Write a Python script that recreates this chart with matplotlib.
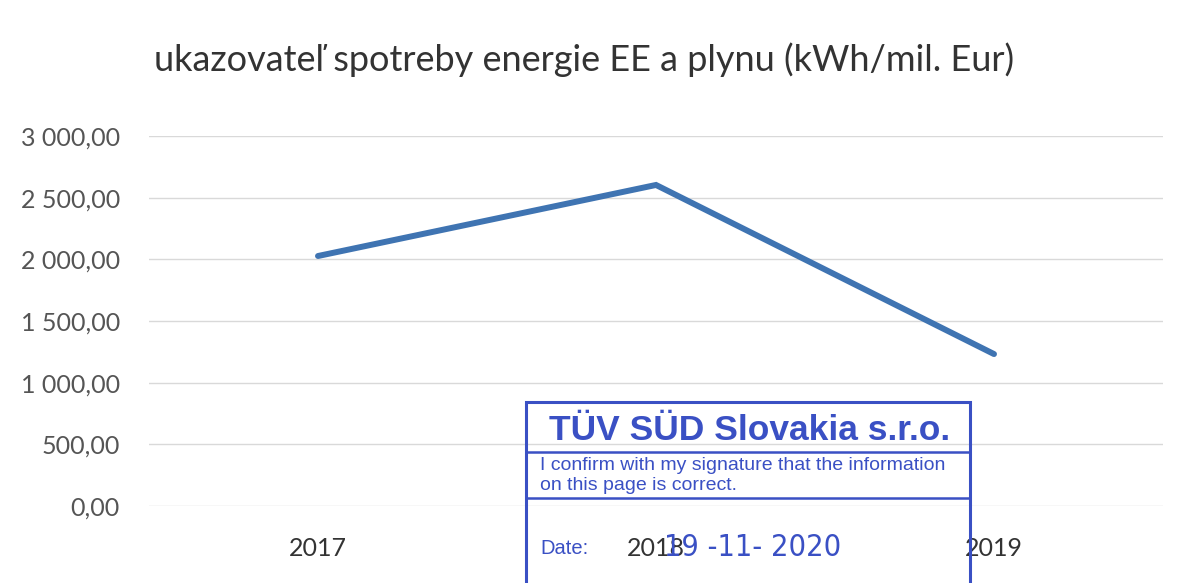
import matplotlib
matplotlib.use("Agg")
from matplotlib import pyplot as plt
from matplotlib.patches import Rectangle
from matplotlib.lines import Line2D

# chart data
years = ["2017", "2018", "2019"]
values = [2027, 2603, 1232]
yticks = [0, 500, 1000, 1500, 2000, 2500, 3000]
title = "ukazovateľ spotreby energie EE a plynu (kWh/mil. Eur)"

# stamp texts
stamp_head = "TÜV SÜD Slovakia s.r.o."
stamp_lines = ["I confirm with my signature that the information", "on this page is correct."]
stamp_date = "19 -11- 2020"

plt.rcParams['font.family'] = ['Lato', 'DejaVu Sans']

W, H = 1184, 583
fig = plt.figure(figsize=(W / 100, H / 100), dpi=100)
ax = fig.add_axes([149 / W, 1 - 506 / H, (1163 - 149) / W, (506 - 136) / H])

x = list(range(len(years)))
ax.plot(x, values, color="#3f74b2", lw=4.3, solid_capstyle="round", solid_joinstyle="miter", zorder=3)

ax.set_xlim(-0.5, len(years) - 0.5)
ax.set_ylim(0, 3000)
ax.set_yticks(yticks)
ax.set_yticklabels(["{:,.2f}".format(v).replace(",", " ").replace(".", ",") for v in yticks])
ax.set_xticks(x)
ax.set_xticklabels(years)
ax.tick_params(axis="y", length=0, pad=21, labelsize=18, labelcolor="#555555")
ax.tick_params(axis="x", length=0, pad=22, labelsize=18, labelcolor="#333333")
ax.grid(axis="y", color="#d9d9d9", lw=1)
for s in ax.spines.values():
    s.set_visible(False)
ax.patch.set_alpha(0)

fig.text(584 / W, 1 - 60 / H, title, ha="center", va="center", fontsize=26, color="#333333")

# stamp overlay
blue = "#3a50c4"
sans = ["Liberation Sans", "DejaVu Sans"]
fig.patches.append(Rectangle((526 / W, -0.05), (970 - 526) / W, 0.05 + (H - 402) / H,
                             transform=fig.transFigure, fill=False, ec=blue, lw=2.2, zorder=10))
for yy in (452, 498):
    fig.lines.append(Line2D([526 / W, 970 / W], [1 - yy / H, 1 - yy / H],
                            transform=fig.transFigure, color=blue, lw=1.8, zorder=10))
fig.text(750 / W, 1 - 431 / H, stamp_head, ha="center", va="center", fontsize=25.5,
         fontweight="bold", color=blue, family=sans, zorder=11)
fig.text(540 / W, 1 - 465 / H, stamp_lines[0], ha="left", va="center", fontsize=14,
         color=blue, family=sans, zorder=11)
fig.text(540 / W, 1 - 486 / H, stamp_lines[1], ha="left", va="center", fontsize=14,
         color=blue, family=sans, zorder=11)
fig.text(540 / W, 1 - 549 / H, "Date:", ha="left", va="center", fontsize=14.5,
         color=blue, family=sans, zorder=11)
fig.text(664 / W, 1 - 548 / H, stamp_date, ha="left", va="center", fontsize=22,
         fontstretch="condensed", color=blue,
         family=["Liberation Sans Narrow", "DejaVu Sans Condensed", "DejaVu Sans"], zorder=11)

fig.savefig("out.png", dpi=100, facecolor="white")
